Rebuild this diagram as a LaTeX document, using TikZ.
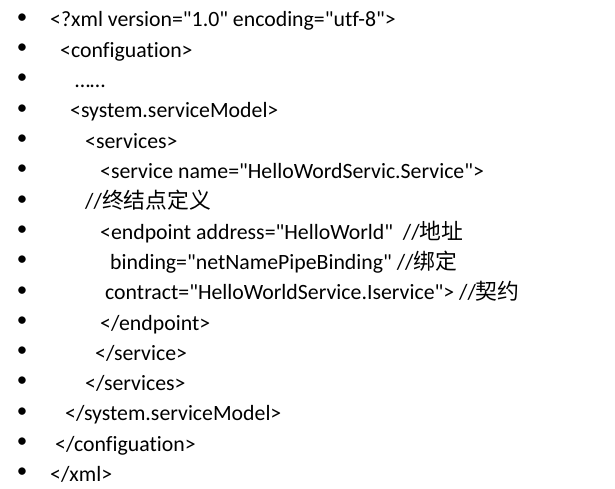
\documentclass[tikz,border=0pt]{standalone}
\usepackage{fontspec}
\setmainfont{Carlito}[Ligatures={TeXOff,CommonOff}]
\newfontfamily\cjk{Noto Sans CJK SC}
\tikzset{
  ligne/.style={anchor=base west,inner sep=0pt,font=\fontsize{21.8}{24}\selectfont},
  puce/.style={anchor=center,inner sep=0pt,font=\fontsize{21}{24}\selectfont}
}
\begin{document}
\begin{tikzpicture}[x=1pt,y=-1pt]
  \useasboundingbox (0,0) rectangle (615,489);
  \foreach \k [evaluate=\k as \yy using 18.5+30.3*(\k-1)] in {1,...,16}
    \node[puce] (p\k) at (22,\yy) {\textbullet};
  \node[ligne] (l1) at (50,27) {<?xml version="1.0" encoding="utf-8">};
  \node[ligne] (l2) at (60,57.3) {<configuation>};
  \node[ligne] (l3) at (75,87.6) {……};
  \node[ligne] (l4) at (70,117.9) {<system.serviceModel>};
  \node[ligne] (l5) at (85,148.2) {<services>};
  \node[ligne] (l6) at (100,178.5) {<service name="HelloWordServic.Service">};
  \node[ligne] (l7) at (85,208.8) {//{\cjk 终结点定义}};
  \node[ligne] (l8) at (100,239.1) {<endpoint address="HelloWorld"\ \ //{\cjk 地址}};
  \node[ligne] (l9) at (110,269.4) {binding="netNamePipeBinding" //{\cjk 绑定}};
  \node[ligne] (l10) at (105,299.7) {contract="HelloWorldService.Iservice"> //{\cjk 契约}};
  \node[ligne] (l11) at (100,330) {</endpoint>};
  \node[ligne] (l12) at (95,360.3) {</service>};
  \node[ligne] (l13) at (85,390.6) {</services>};
  \node[ligne] (l14) at (65,420.9) {</system.serviceModel>};
  \node[ligne] (l15) at (55,451.2) {</configuation>};
  \node[ligne] (l16) at (50,481.5) {</xml>};
\end{tikzpicture}
\end{document}
